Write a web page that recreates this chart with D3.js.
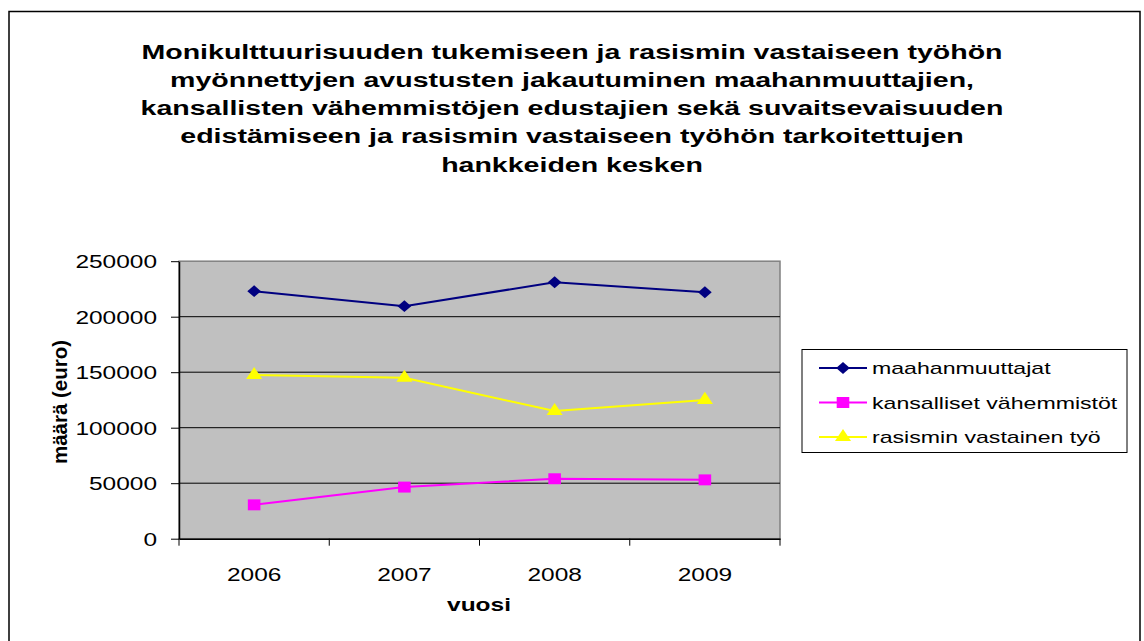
<!DOCTYPE html>
<meta charset="utf-8">
<style>
    body { margin: 0; background: #fff; }
    svg { display: block; font-family: "Liberation Sans", Arial, sans-serif; }
    .grid line { stroke: #000; stroke-width: 1; }
    .axis path, .axis line { stroke: #000; }
</style>
<script src="https://d3js.org/d3.v7.min.js"></script>
<svg width="1144" height="641"></svg>
<script>
    // data
    const years = ["2006", "2007", "2008", "2009"];
    const maahanmuuttajat = [223000, 209500, 231000, 222000];
    const kansalliset = [30500, 46500, 54000, 53000];
    const rasismi = [147500, 145000, 115000, 125000];
    const yTicks = [0, 50000, 100000, 150000, 200000, 250000];
    const titleLines = [
        "Monikulttuurisuuden tukemiseen ja rasismin vastaiseen työhön",
        "myönnettyjen avustusten jakautuminen maahanmuuttajien,",
        "kansallisten vähemmistöjen edustajien sekä suvaitsevaisuuden",
        "edistämiseen ja rasismin vastaiseen työhön tarkoitettujen",
        "hankkeiden kesken"
    ];

    const series = [
        {name: "maahanmuuttajat", values: maahanmuuttajat, color: "#000080", symbol: d3.symbolDiamond2},
        {name: "kansalliset vähemmistöt", values: kansalliset, color: "#ff00ff", symbol: d3.symbolSquare},
        {name: "rasismin vastainen työ", values: rasismi, color: "#ffff00", symbol: d3.symbolTriangle}
    ];

    // the picture is stretched horizontally, text too
    const SX = 1.36;

    const svg = d3.select("svg");
    const plot = {left: 179, right: 780, top: 261.2, bottom: 538.7};

    const x = d3.scaleBand().domain(years).range([plot.left, plot.right]);
    const y = d3.scaleLinear().domain([0, 250000]).range([plot.bottom, plot.top]);

    // outer frame
    svg.append("rect")
        .attr("x", 9).attr("y", 11.5).attr("width", 1131).attr("height", 660)
        .attr("fill", "none").attr("stroke", "#000").attr("stroke-width", 1.5);

    // title
    svg.append("g").selectAll("text")
        .data(titleLines)
        .enter().append("text")
        .attr("transform", function(d, i) { return "translate(572," + (58.5 + i * 28.3) + ") scale(" + SX + ",1)"; })
        .attr("text-anchor", "middle")
        .attr("font-size", 21)
        .attr("font-weight", "bold")
        .text(function(d) { return d; });

    // plot background
    svg.append("rect")
        .attr("x", plot.left).attr("y", plot.top)
        .attr("width", plot.right - plot.left).attr("height", plot.bottom - plot.top)
        .attr("fill", "#c0c0c0").attr("stroke", "#808080").attr("stroke-width", 1.5);

    // gridlines
    svg.append("g").attr("class", "grid").selectAll("line")
        .data(yTicks.slice(1, -1))
        .enter().append("line")
        .attr("x1", plot.left).attr("x2", plot.right)
        .attr("y1", function(d) { return y(d); }).attr("y2", function(d) { return y(d); });

    // y axis
    let yAxis = svg.append("g").attr("class", "axis")
        .attr("transform", "translate(" + plot.left + ",0)")
        .call(d3.axisLeft(y).tickValues(yTicks).tickSize(8).tickSizeOuter(0).tickFormat(d3.format("d")));
    yAxis.select(".domain").attr("stroke-width", 1.5);
    yAxis.selectAll("text")
        .attr("x", -22 / SX)
        .attr("dy", "0.36em")
        .attr("transform", "scale(" + SX + ",1)")
        .attr("font-size", 18)
        .attr("font-family", "Liberation Sans, Arial, sans-serif")
        .attr("fill", "#000");

    // x axis
    let xAxis = svg.append("g").attr("class", "axis")
        .attr("transform", "translate(0," + plot.bottom + ")")
        .call(d3.axisBottom(x).tickSize(0).tickPadding(0));
    xAxis.select(".domain").attr("stroke-width", 1.5);
    xAxis.selectAll(".tick text")
        .attr("y", 0)
        .attr("dy", 0)
        .attr("transform", "translate(0,42) scale(" + SX + ",1)")
        .attr("font-size", 18)
        .attr("font-family", "Liberation Sans, Arial, sans-serif")
        .attr("fill", "#000");
    let bounds = years.map(function(d) { return x(d); }).concat([x(years[years.length - 1]) + x.step()]);
    xAxis.selectAll(".bound")
        .data(bounds)
        .enter().append("line")
        .attr("class", "bound")
        .attr("x1", function(d) { return d; }).attr("x2", function(d) { return d; })
        .attr("y1", 0).attr("y2", 7)
        .attr("stroke", "#000");

    // axis titles
    svg.append("text")
        .attr("transform", "translate(479,611) scale(" + SX + ",1)")
        .attr("text-anchor", "middle")
        .attr("font-size", 18)
        .attr("font-weight", "bold")
        .text("vuosi");
    svg.append("text")
        .attr("transform", "translate(67,402) rotate(-90)")
        .attr("text-anchor", "middle")
        .attr("font-size", 20.5)
        .attr("font-weight", "bold")
        .text("määrä (euro)");

    // lines
    let line = d3.line()
        .x(function(d, i) { return x(years[i]) + x.bandwidth() / 2; })
        .y(function(d) { return y(d); });

    let sym = function(s) {
        let size = s.symbol === d3.symbolSquare ? 120 : (s.symbol === d3.symbolTriangle ? 85 : 90);
        return d3.symbol().type(s.symbol).size(size)();
    };

    let sg = svg.append("g").selectAll("g")
        .data(series)
        .enter().append("g");
    sg.append("path")
        .attr("d", function(d) { return line(d.values); })
        .attr("fill", "none")
        .attr("stroke", function(d) { return d.color; })
        .attr("stroke-width", 2);
    sg.each(function(s) {
        d3.select(this).selectAll(".m")
            .data(s.values)
            .enter().append("path")
            .attr("class", "m")
            .attr("d", sym(s))
            .attr("transform", function(d, i) {
                return "translate(" + (x(years[i]) + x.bandwidth() / 2) + "," + y(d) + ") scale(1.15,1)";
            })
            .attr("fill", s.color);
    });

    // legend
    let legend = svg.append("g").attr("transform", "translate(802,349.5)");
    legend.append("rect")
        .attr("width", 325).attr("height", 103)
        .attr("fill", "#fff").attr("stroke", "#000").attr("stroke-width", 1);
    let li = legend.selectAll(".li")
        .data(series)
        .enter().append("g")
        .attr("class", "li")
        .attr("transform", function(d, i) { return "translate(0," + (18.5 + i * 34.5) + ")"; });
    li.append("line")
        .attr("x1", 17).attr("x2", 65)
        .attr("stroke", function(d) { return d.color; })
        .attr("stroke-width", 2);
    li.append("path")
        .attr("d", function(d) { return sym(d); })
        .attr("transform", "translate(41,0) scale(1.15,1)")
        .attr("fill", function(d) { return d.color; });
    li.append("text")
        .attr("transform", "translate(70,6) scale(" + SX + ",1)")
        .attr("font-size", 17)
        .text(function(d) { return d.name; });
</script>
